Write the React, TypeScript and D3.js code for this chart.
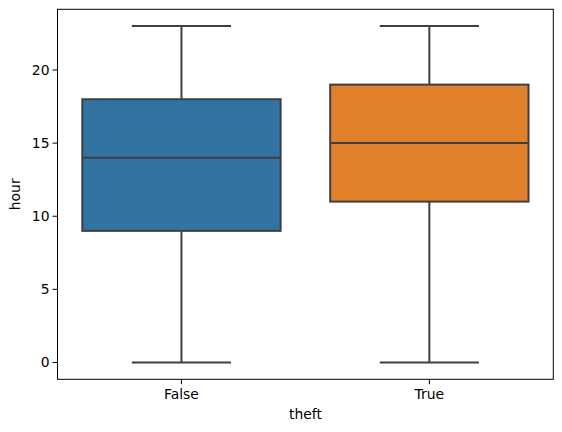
import React from "react";
import * as d3 from "d3";

const categories = ["False", "True"];
const mins = [0, 0];
const q1s = [9, 11];
const medians = [14, 15];
const q3s = [18, 19];
const maxs = [23, 23];
const colors = ["#3274a1", "#e1812c"];
const yTicks = [0, 5, 10, 15, 20];

export default function App() {
  const W = 562, H = 432;
  const left = 57.5, right = 553.3, top = 9.3, bottom = 379.3;
  const x = d3.scaleLinear().domain([-0.5, categories.length - 0.5]).range([left, right]);
  const y = d3.scaleLinear().domain([-1.15, 24.15]).range([bottom, top]);
  const bw = 0.8, cw = 0.4;
  const lc = "#3f3f3f";
  const font = "DejaVu Sans, sans-serif";
  return (
    <svg width={W} height={H} style={{ position: "absolute", left: 0, top: 0 }} fontFamily={font}>
      <rect x={0} y={0} width={W} height={H} fill="#fff" />
      {categories.map((c, i) => {
        const cx = x(i);
        return (
          <g key={c}>
            <line x1={cx} x2={cx} y1={y(q3s[i])} y2={y(maxs[i])} stroke={lc} strokeWidth={2} />
            <line x1={cx} x2={cx} y1={y(q1s[i])} y2={y(mins[i])} stroke={lc} strokeWidth={2} />
            <line x1={x(i - cw / 2)} x2={x(i + cw / 2)} y1={y(maxs[i])} y2={y(maxs[i])} stroke={lc} strokeWidth={2} />
            <line x1={x(i - cw / 2)} x2={x(i + cw / 2)} y1={y(mins[i])} y2={y(mins[i])} stroke={lc} strokeWidth={2} />
            <rect x={x(i - bw / 2)} y={y(q3s[i])} width={x(i + bw / 2) - x(i - bw / 2)} height={y(q1s[i]) - y(q3s[i])}
              fill={colors[i]} stroke={lc} strokeWidth={2} />
            <line x1={x(i - bw / 2)} x2={x(i + bw / 2)} y1={y(medians[i])} y2={y(medians[i])} stroke={lc} strokeWidth={2} />
          </g>
        );
      })}
      <rect x={left} y={top} width={right - left} height={bottom - top} fill="none" stroke="#000" strokeWidth={1} />
      {yTicks.map((t) => (
        <g key={t}>
          <line x1={left - 4.9} x2={left} y1={y(t)} y2={y(t)} stroke="#000" strokeWidth={1} />
          <text x={left - 8} y={y(t)} dy="0.35em" textAnchor="end" fontSize={13.9} fill="#000">{t}</text>
        </g>
      ))}
      {categories.map((c, i) => (
        <g key={c}>
          <line x1={x(i)} x2={x(i)} y1={bottom} y2={bottom + 4.9} stroke="#000" strokeWidth={1} />
          <text x={x(i)} y={bottom + 20} textAnchor="middle" fontSize={13.9} fill="#000">{c}</text>
        </g>
      ))}
      <text x={(left + right) / 2} y={bottom + 40} textAnchor="middle" fontSize={13.9} fill="#000">theft</text>
      <text transform={`translate(20,${(top + bottom) / 2}) rotate(-90)`} textAnchor="middle" fontSize={13.9} fill="#000">hour</text>
    </svg>
  );
}
